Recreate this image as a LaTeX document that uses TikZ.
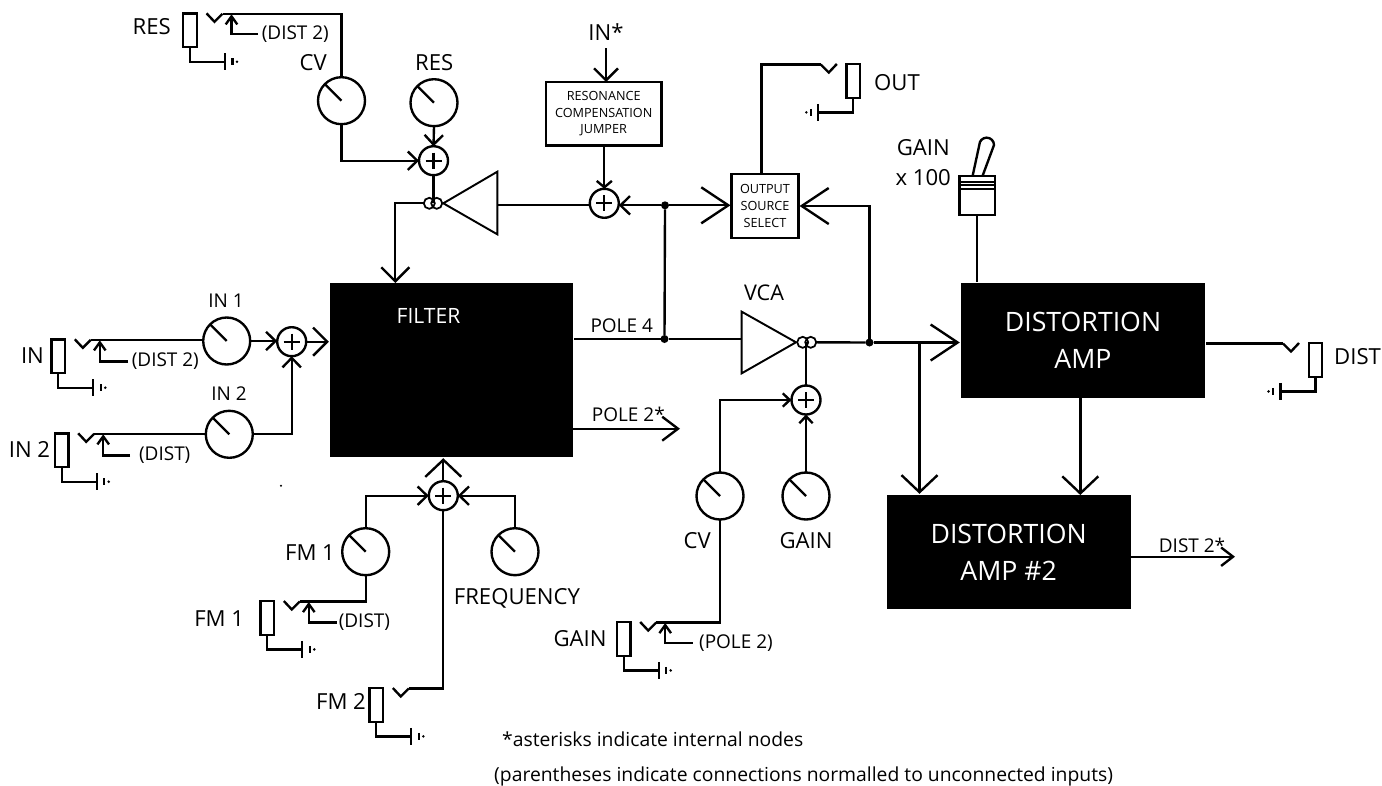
\documentclass[tikz,border=0pt]{standalone}
\usepackage{fontspec}
\setmainfont{Open Sans}
\usetikzlibrary{arrows.meta}

\begin{document}
\begin{tikzpicture}[x=0.02cm, y=-0.02cm, line width=1.35pt,
    txt/.style={inner sep=0pt, font=\fontsize{12.6}{15}\selectfont},
    smalltxt/.style={inner sep=0pt, font=\fontsize{10.8}{13}\selectfont},
    notetxt/.style={inner sep=0pt, font=\fontsize{11}{13}\selectfont},
    whitebox/.style={draw, inner sep=0pt, align=center, font=\fontsize{7.2}{9.6}\selectfont},
    blackbox/.style={fill=black, text=white, inner sep=0pt, align=center, font=\fontsize{15.2}{20.9}\selectfont},
    jackbox/.style={draw, inner sep=0pt, minimum width=13.5*\pxu, minimum height=33.4*\pxu},
    knob/.style={circle, draw, inner sep=0pt, outer sep=0pt, minimum size=47*\pxu,
        path picture={\draw (path picture bounding box.center) -- (path picture bounding box.north west);}},
    sum/.style={circle, draw, fill=white, inner sep=0pt, outer sep=0pt, minimum size=29*\pxu,
        path picture={\draw (path picture bounding box.center) ++(-8,0) -- ++(16,0);
                      \draw (path picture bounding box.center) ++(0,-8) -- ++(0,16);}},
    ring/.style={circle, draw, line width=1pt, inner sep=0pt, outer sep=0pt, minimum size=11*\pxu},
    junction/.style={circle, fill, inner sep=0pt, outer sep=0pt, minimum size=8*\pxu},
    bigtip/.style={-{Straight Barb[length=15.4pt,width=20.5pt]}},
    widetip/.style={-{Straight Barb[length=9.7pt,width=20.5pt]}},
    filtertip/.style={-{Straight Barb[length=8pt,width=16pt]}},
    medtip/.style={-{Straight Barb[length=6.8pt,width=13.6pt]}},
    poletip/.style={-{Straight Barb[length=9pt,width=13.6pt]}},
    disttip/.style={-{Straight Barb[length=6.8pt,width=10.5pt]}},
    sumtip/.style={-{Straight Barb[length=5.4pt,width=10.5pt]}},
    jumptip/.style={-{Straight Barb[length=3.6pt,width=8.6pt]}},
    smalltip/.style={-{Straight Barb[length=4pt,width=7.6pt]}},
    sensetip/.style={-{Straight Barb[length=4.6pt,width=6.6pt]}}]

    % --- define variables ---
    \def\pxu{0.02cm}
    % a jack: name, x, y, side (1 = switch on the right, -1 = on the left)
    \def\jack#1#2#3#4{
        \node[jackbox] (#1) at (#2,#3) {};
        \draw ([shift={(#4*16.5,-17)}]#1.center) -- ([shift={(#4*24.5,-8.5)}]#1.center)
            -- ([shift={(#4*32.5,-16.5)}]#1.center) coordinate (#1tip);
        \draw (#1.south) -- ++(0,13.5) -- ++(#4*35,0) coordinate (#1gnd);
        \draw (#1gnd) ++(0,-8.5) -- ++(0,17);
        \draw (#1gnd) ++(#4*7.5,-3.5) -- ++(0,7);
        \fill (#1gnd) ++(#4*12,0) circle (0.8pt);
        \coordinate (#1sense) at ([shift={(#4*41.5,-16)}]#1.center);
    }

    \useasboundingbox (0,0) rectangle (1382,785);

    % --- 1. main blocks ---
    \node[blackbox, minimum width=243*\pxu, minimum height=174*\pxu] (filter) at (451.5,370) {};
    \node[inner sep=0pt, text=white, font=\fontsize{12}{16}\selectfont] (filtertxt) at (428.5,316) {FILTER};
    \node[blackbox, minimum width=244*\pxu, minimum height=114.4*\pxu] (ampa) at (1083,340.5) {DISTORTION\\AMP};
    \node[blackbox, minimum width=244*\pxu, minimum height=114.4*\pxu] (ampb) at (1008.7,552.2) {DISTORTION\\AMP \#2};
    \node[whitebox, minimum width=115.3*\pxu, minimum height=63.3*\pxu] (jumper) at (603.7,113.7) {RESONANCE\\COMPENSATION\\JUMPER};
    \node[whitebox, minimum width=66.7*\pxu, minimum height=63.4*\pxu] (select) at (765,206) {OUTPUT\\SOURCE\\SELECT};

    % --- 2. summing points ---
    \node[sum] (sumres) at (433.5,160.7) {};
    \node[sum] (sumcomp) at (604.3,203.3) {};
    \node[sum] (sumin) at (291.7,341.7) {};
    \node[sum] (sumfm) at (443.3,495.7) {};
    \node[sum] (sumvca) at (806,400) {};

    % --- 3. knobs ---
    \node[knob] (knobcv) at (341.5,100.7) {};
    \node[knob] (knobres) at (434,102.7) {};
    \node[knob] (knobina) at (226.7,341) {};
    \node[knob] (knobinb) at (229.3,434.3) {};
    \node[knob] (knobfm) at (365.7,551.7) {};
    \node[knob] (knobfreq) at (515,551.7) {};
    \node[knob] (knobvcacv) at (720,496) {};
    \node[knob] (knobgain) at (806,496) {};

    % --- 4. jacks ---
    \jack{jres}{190}{30.3}{1}
    \jack{jin}{58.3}{356.3}{1}
    \jack{jinb}{61.7}{450.3}{1}
    \jack{jfma}{267.3}{618}{1}
    \jack{jfmb}{376.3}{705}{1}
    \jack{jgain}{623.7}{639}{1}
    \jack{jout}{853.3}{81}{-1}
    \jack{jdist}{1315.5}{360}{-1}

    % --- 5. amplifier triangles and junctions ---
    \draw[line width=1.1pt] (497.3,171.7) -- (497.3,234.3) -- (443.3,203.3) -- cycle;
    \coordinate (fbin) at (497.3,205.3);
    \draw[line width=1.1pt] (741.7,311.7) -- (741.7,373.3) -- (796,342.3) -- cycle;
    \coordinate (vcain) at (741.7,339);
    \node[ring] (fbringa) at (429.3,203.3) {};
    \node[ring] (fbringb) at (436.7,203.3) {};
    \node[ring] (vcaringa) at (802.7,342.3) {};
    \node[ring] (vcaringb) at (810.7,342.3) {};
    \node[junction] (jfb) at (665,205.3) {};
    \node[junction] (jpole) at (664.5,339) {};
    \node[junction] (jvca) at (869.5,342.5) {};
    \coordinate (jamp) at (919.5,342.5);

    % --- 6. toggle switch ---
    \node[draw, inner sep=0pt, minimum width=35.7*\pxu, minimum height=39.3*\pxu] (toggle) at (977.2,195.6) {};
    \draw[line width=1.1pt] (959.3,181.7) -- (995,181.7);
    \draw[line width=1.1pt] (959.3,185.3) -- (995,185.3);
    \draw[line width=1.1pt] (959.3,189.3) -- (995,189.3);
    \draw (972.7,175.5) -- (979.3,145) arc[start angle=180, end angle=0, radius=7.35*\pxu] -- (982.7,175.5);

    % --- 7. wires ---
    % resonance path
    \draw (jrestip) -| (knobcv.north);
    \draw[sumtip] (knobcv.south) |- (sumres.west);
    \draw[sumtip] (knobres.south) -- (sumres.north);
    \draw (sumres.south) -- (sumres.south |- fbringa.center);
    \draw[line width=1.1pt] (fbin) -- (fbin -| sumcomp.west);
    \draw[filtertip] (fbringa.west) -| (395.3,283);
    \draw[medtip] (606,48) -- (606,82);
    \draw[jumptip] (jumper.south -| sumcomp.north) -- (sumcomp.north);
    \draw[sumtip] (jfb) -- (jfb -| sumcomp.east);
    \draw[bigtip] (jfb) -- (select.west |- jfb);
    \draw (jfb) -- (jpole);
    \draw[bigtip] (jvca) |- (select.east);
    % output
    \draw (select.north -| 761.5,0) |- (jouttip);
    % inputs
    \draw (jintip) -- (jintip -| knobina.west);
    \draw[sumtip] (knobina.east) -- (knobina.east -| sumin.west);
    \draw (jinbtip) -- (jinbtip -| knobinb.west);
    \draw[sumtip] (knobinb.east) -| (sumin.south);
    \draw[filtertip] (sumin.east) -- (sumin.east -| filter.west);
    % frequency modulation
    \draw[widetip] (sumfm.north) -- (sumfm.north |- filter.south);
    \draw[sumtip] (knobfm.north) |- (sumfm.west);
    \draw[sumtip] (knobfreq.north) |- (sumfm.east);
    \draw (jfmatip) -| (knobfm.south);
    \draw (jfmbtip) -| (sumfm.south);
    % pole outputs and VCA
    \draw (filter.east |- jpole) -- (jpole);
    \draw (jpole) -- (vcain);
    \draw[poletip] (573,428.7) -- (680,428.7);
    \draw (806,342.3) -- (sumvca.north);
    \draw[smalltip] (knobvcacv.north) |- (sumvca.west);
    \draw[smalltip] (knobgain.north) -- (sumvca.south);
    \draw (jgaintip) -| (knobvcacv.south);
    \draw (vcaringb.east) -- (jvca);
    \draw (jvca) -- (jamp);
    \draw[bigtip] (jamp) -- (ampa.west |- jamp);
    \draw[widetip] (jamp) -- (jamp |- ampb.north);
    \draw[widetip] (1080.3,397.7) -- (1080.3,495);
    \draw (toggle.south) -- (toggle.south |- ampa.north);
    \draw (ampa.east |- jdisttip) -- (jdisttip);
    \draw[disttip] (1130.7,556.7) -- (1235,556.7);

    % --- 8. labels ---
    \node[txt] (lres) at (151.7,26.7) {RES};
    \node[txt] (lcv) at (313.3,62.3) {CV};
    \node[txt] (lresknob) at (434.3,62.3) {RES};
    \node[txt] (lin) at (32.5,356) {IN};
    \node[txt] (linb) at (29.5,449) {IN 2};
    \node[smalltxt] (lina) at (226,300.7) {IN 1};
    \node[smalltxt] (linbk) at (229,394) {IN 2};
    \node[txt] (linstar) at (606,31.7) {IN*};
    \node[txt, anchor=west] (lout) at (873,83) {OUT};
    \node[txt, anchor=east] (lgain) at (951,147.3) {GAIN};
    \node[txt, anchor=east] (lgainx) at (952,177.7) {x 100};
    \node[txt, anchor=west] (ldist) at (1333,356.7) {DIST};
    \node[txt, font=\fontsize{12.3}{16}\selectfont] (lvca) at (764,293) {VCA};
    \node[smalltxt] (lpolea) at (621.7,326) {POLE 4};
    \node[smalltxt] (lpoleb) at (628.3,414) {POLE 2*};
    \node[smalltxt] (ldistb) at (1192,545) {DIST 2*};
    \node[txt] (lfmk) at (310,552.7) {FM 1};
    \node[txt] (lfma) at (219.2,618.3) {FM 1};
    \node[txt] (lfmb) at (341,701.7) {FM 2};
    \node[txt, anchor=west] (lfreq) at (452.7,598.3) {FREQUENCY};
    \node[txt] (lcvb) at (697.3,540.7) {CV};
    \node[txt] (lgaink) at (806,540.7) {GAIN};
    \node[txt, anchor=east] (lgainj) at (607.7,639) {GAIN};

    % the labels in brackets feed the jack switches
    \node[smalltxt, anchor=west, inner xsep=1.5pt] (lsres) at (258,34) {(DIST 2)};
    \node[smalltxt, anchor=west, inner xsep=1.5pt] (lsin) at (128,361.5) {(DIST 2)};
    \node[smalltxt, anchor=west, inner xsep=4.5pt] (lsinb) at (130,455.5) {(DIST)};
    \node[smalltxt, anchor=west, inner xsep=0.5pt] (lsfm) at (336.7,622.5) {(DIST)};
    \node[smalltxt, anchor=west, inner xsep=3pt] (lsgain) at (692.7,643) {(POLE 2)};
    \draw[sensetip] (lsres.west) -| (jressense);
    \draw[sensetip] (lsin.west) -| (jinsense);
    \draw[sensetip] (lsinb.west) -| (jinbsense);
    \draw[sensetip] (lsfm.west) -| (jfmasense);
    \draw[sensetip] (lsgain.west) -| (jgainsense);

    % --- 9. notes ---
    \node[notetxt, anchor=west] (noteast) at (501,739) {*asterisks indicate internal nodes};
    \node[notetxt, anchor=west] (notepar) at (493,776.5) {(parentheses indicate connections normalled to unconnected inputs)};
    \fill (281,485.7) circle (0.6pt);

\end{tikzpicture}
\end{document}
